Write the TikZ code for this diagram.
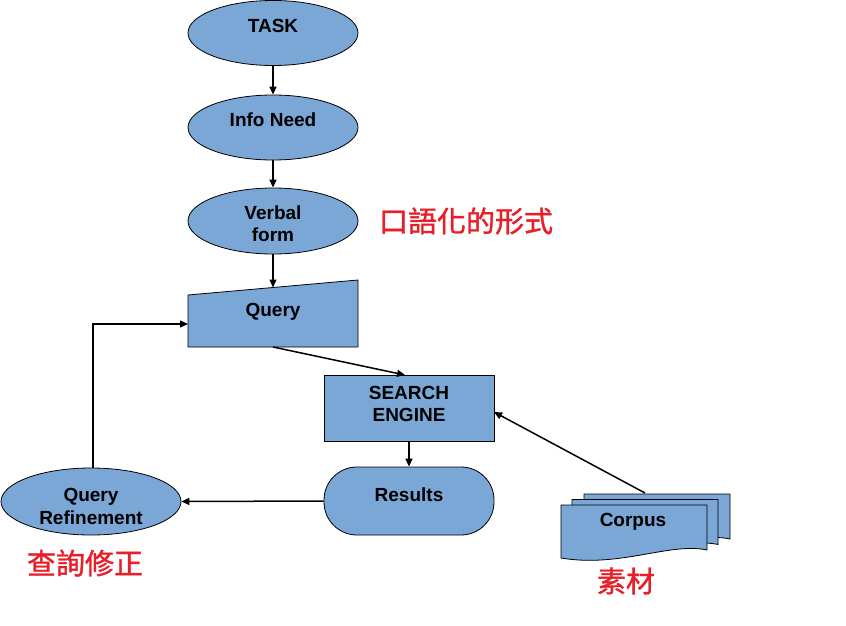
\documentclass[tikz,border=0pt]{standalone}
\usepackage{fontspec}
\setmainfont{Liberation Sans}
\newfontfamily\cjk[FakeBold=1.2]{Noto Sans CJK TC}
\usetikzlibrary{arrows.meta,shapes.geometric}
\definecolor{fillblue}{RGB}{122,167,214}
\definecolor{cnred}{RGB}{232,30,40}
\begin{document}
\begin{tikzpicture}[x=1pt,y=-1pt,
  shp/.style={draw=black, line width=0.8pt, fill=fillblue},
  ell/.style={shp, ellipse, minimum width=170pt, minimum height=65pt, inner sep=0pt},
  box/.style={shp, rectangle, inner sep=0pt},
  lbl/.style={font=\bfseries\fontsize{19}{22}\selectfont, anchor=base, inner sep=0pt},
  cn/.style={font=\cjk\fontsize{29}{31}\selectfont, text=cnred, inner sep=0pt},
  arr/.style={-{Triangle[length=8pt,width=7pt]}, line width=1.5pt}]
\fill[white] (0,0) rectangle (846,626);
\useasboundingbox (0,0) rectangle (846,626);

% ellipses
\node[ell] (task) at (273,33) {};
\node[lbl] (taskt) at (273,33) {TASK};
\node[ell] (info) at (273,127.5) {};
\node[lbl] (infot) at (273,126) {Info Need};
\node[ell, minimum height=66pt] (verb) at (273,221) {};
\node[lbl] (verbt1) at (273,219) {Verbal};
\node[lbl] (verbt2) at (273,241) {form};

% query (manual input)
\draw[shp] (188,295) -- (358,280) -- (358,347) -- (188,347) -- cycle;
\coordinate (qtop) at (273,287.5);
\coordinate (qbot) at (273,347);
\coordinate (qleft) at (188,324);
\node[lbl] (queryt) at (273,316) {Query};

% search engine
\node[box, minimum width=170pt, minimum height=66pt] (se) at (409,408) {};
\node[lbl] (set1) at (409,399) {SEARCH};
\node[lbl] (set2) at (409,421.5) {ENGINE};
\coordinate (setop) at (405,375);
\coordinate (seR) at (494,412);

% results
\node[box, rounded corners=33pt, minimum width=170pt, minimum height=68pt] (res) at (409,501) {};
\node[lbl] (rest) at (409,501.5) {Results};

% query refinement
\node[ell, minimum width=180pt, minimum height=67pt] (qr) at (91,501.5) {};
\node[lbl] (qrt1) at (91,501.5) {Query};
\node[lbl] (qrt2) at (91,524) {Refinement};
\coordinate (qrtop) at (93,468);

% corpus
\foreach \dx/\dy in {23/-11, 11/-5.5, 0/0}{
  \begin{scope}[shift={(\dx,\dy)}]
    \draw[shp] (561,505) -- (707,505) -- (707,550)
      .. controls (670,542) and (620,568) .. (561,558) -- cycle;
  \end{scope}
}
\coordinate (ctop) at (645,493);
\node[lbl] (corpt) at (633,526.7) {Corpus};

% arrows
\draw[arr] (task) -- (info);
\draw[arr] (info) -- (verb);
\draw[arr] (verb) -- (qtop);
\draw[arr] (qbot) -- (setop);
\draw[arr] (se) -- (res);
\draw[arr] (res.west) -- (qr.east);
\draw[arr] (qrtop) |- (qleft);
\draw[arr] (ctop) -- (seR);

% red labels
\node[cn] (c1) at (466,221) {口語化的形式};
\node[cn] (c2) at (85,563) {查詢修正};
\node[cn] (c3) at (626,581) {素材};
\end{tikzpicture}
\end{document}
